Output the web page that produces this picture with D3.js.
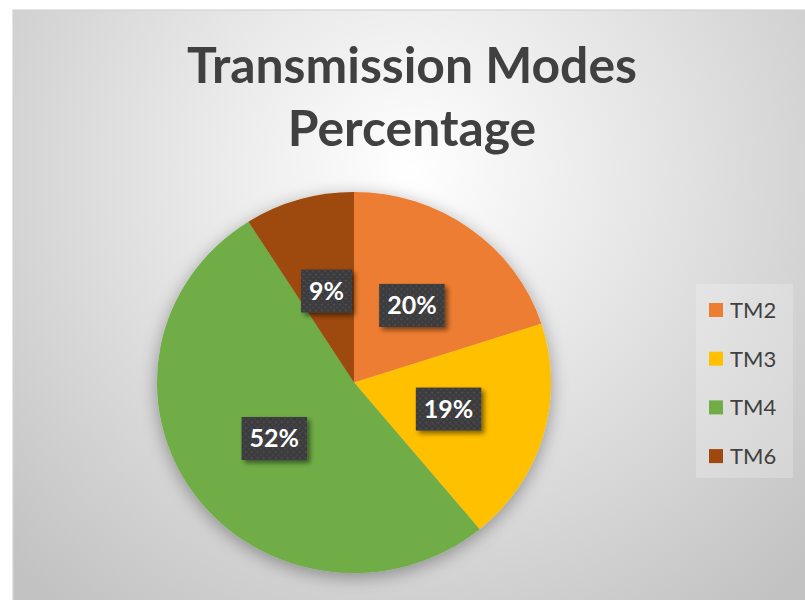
<!DOCTYPE html>
<html>
<head>
<meta charset="utf-8">
<script src="https://cdn.jsdelivr.net/npm/d3@7"></script>
<style>
  html, body { margin: 0; padding: 0; background: #ffffff; }
  svg { display: block; }
</style>
</head>
<body>
<svg id="chart" width="805" height="600"></svg>
<script>
// Chart data
const titleLines = ["Transmission Modes", "Percentage"];
const categories = ["TM2", "TM3", "TM4", "TM6"];
const values = [20, 19, 52, 9];
const palette = ["#ED7D31", "#FFC000", "#70AD47", "#9E480E"];

const W = 805, H = 600;
const svg = d3.select("#chart");
const defs = svg.append("defs");

// Background: light radial wash, white near the title, grey to the corners
const bg = defs.append("radialGradient").attr("id", "bgGrad")
  .attr("gradientUnits", "userSpaceOnUse")
  .attr("cx", 410).attr("cy", 170).attr("r", 560);
bg.append("stop").attr("offset", "0").attr("stop-color", "#ffffff");
bg.append("stop").attr("offset", "0.45").attr("stop-color", "#e4e4e4");
bg.append("stop").attr("offset", "1").attr("stop-color", "#c2c2c2");

// Soft halo under the pie
const halo = defs.append("filter").attr("id", "pieShadow")
  .attr("x", "-20%").attr("y", "-20%").attr("width", "140%").attr("height", "140%");
halo.append("feGaussianBlur").attr("in", "SourceAlpha").attr("stdDeviation", 9).attr("result", "b");
halo.append("feOffset").attr("in", "b").attr("dx", 0).attr("dy", 4).attr("result", "o");
halo.append("feComponentTransfer").attr("in", "o").attr("result", "s")
  .append("feFuncA").attr("type", "linear").attr("slope", 0.35);
const hm = halo.append("feMerge");
hm.append("feMergeNode").attr("in", "s");
hm.append("feMergeNode").attr("in", "SourceGraphic");

// Shadow for the data-label boxes
const lblShadow = defs.append("filter").attr("id", "lblShadow")
  .attr("x", "-30%").attr("y", "-30%").attr("width", "170%").attr("height", "170%");
lblShadow.append("feGaussianBlur").attr("in", "SourceAlpha").attr("stdDeviation", 2.5).attr("result", "b");
lblShadow.append("feOffset").attr("in", "b").attr("dx", 3).attr("dy", 3).attr("result", "o");
lblShadow.append("feComponentTransfer").attr("in", "o").attr("result", "s")
  .append("feFuncA").attr("type", "linear").attr("slope", 0.5);
const lm = lblShadow.append("feMerge");
lm.append("feMergeNode").attr("in", "s");
lm.append("feMergeNode").attr("in", "SourceGraphic");

// Dotted texture for the label boxes
const dots = defs.append("pattern").attr("id", "dots")
  .attr("patternUnits", "userSpaceOnUse").attr("width", 6).attr("height", 6);
dots.append("rect").attr("width", 6).attr("height", 6).attr("fill", "#3b3b3d");
dots.append("circle").attr("cx", 1.5).attr("cy", 1.5).attr("r", 1).attr("fill", "#56565a");
dots.append("circle").attr("cx", 4.5).attr("cy", 4.5).attr("r", 1).attr("fill", "#4c4c50");

// Chart area
svg.append("rect").attr("x", 13).attr("y", 10).attr("width", W).attr("height", H)
  .attr("fill", "url(#bgGrad)").attr("stroke", "#d2d2d2").attr("stroke-width", 1.2);

// Title
const title = svg.append("text")
  .attr("text-anchor", "middle")
  .attr("font-family", "Lato, 'Open Sans', sans-serif")
  .attr("font-weight", 700)
  .attr("fill", "#404040");
title.selectAll("tspan").data(titleLines).join("tspan")
  .attr("x", 412)
  .attr("y", (d, i) => 83 + i * 63)
  .text(d => d);
// fit the first line to its width
let fs = 46;
title.attr("font-size", fs);
const tw = title.select("tspan").node().getComputedTextLength();
fs = fs * 450 / tw;
title.attr("font-size", fs);

// Pie
const cx = 354, cy = 382.5, rx = 197, ry = 190.5;
const color = d3.scaleOrdinal().domain(categories).range(palette);
const pieData = d3.pie().sort(null).value(d => d.v)(categories.map((c, i) => ({ c, v: values[i] })));
const arc = d3.arc().innerRadius(0).outerRadius(rx);

const pieG = svg.append("g")
  .attr("transform", `translate(${cx},${cy}) scale(1,${ry / rx})`)
  .attr("filter", "url(#pieShadow)");
pieG.selectAll("path").data(pieData).join("path")
  .attr("d", arc)
  .attr("fill", d => color(d.data.c))
  .attr("stroke", "none");

// Data labels
const lblG = svg.append("g").attr("transform", `translate(${cx},${cy})`);
const labels = lblG.selectAll("g").data(pieData).join("g")
  .attr("transform", d => {
    const [x, y] = arc.centroid(d);
    return `translate(${x},${y * ry / rx})`;
  });
labels.each(function (d) {
  const g = d3.select(this);
  const r = g.append("rect").attr("fill", "url(#dots)").attr("filter", "url(#lblShadow)");
  const t = g.append("text")
    .attr("text-anchor", "middle")
    .attr("dy", "0.36em")
    .attr("font-family", "Lato, 'Open Sans', sans-serif")
    .attr("font-weight", 700)
    .attr("font-size", 25)
    .attr("fill", "#ffffff")
    .text(d.data.v + "%");
  const w = t.node().getComputedTextLength() + 16;
  const h = 43;
  r.attr("x", -w / 2).attr("y", -h / 2).attr("width", w).attr("height", h);
});

// Legend
const legG = svg.append("g");
legG.append("rect").attr("x", 696).attr("y", 284).attr("width", 97).attr("height", 194)
  .attr("fill", "#ffffff").attr("fill-opacity", 0.22);
const items = legG.selectAll("g.item").data(categories).join("g")
  .attr("class", "item")
  .attr("transform", (d, i) => `translate(709,${310 + i * 48.7})`);
items.append("rect").attr("x", 0).attr("y", -7).attr("width", 14).attr("height", 14)
  .attr("fill", d => color(d));
items.append("text")
  .attr("x", 21).attr("dy", "0.36em")
  .attr("font-family", "Lato, 'Open Sans', sans-serif")
  .attr("font-size", 22)
  .attr("fill", "#404040")
  .text(d => d);
</script>
</body>
</html>
